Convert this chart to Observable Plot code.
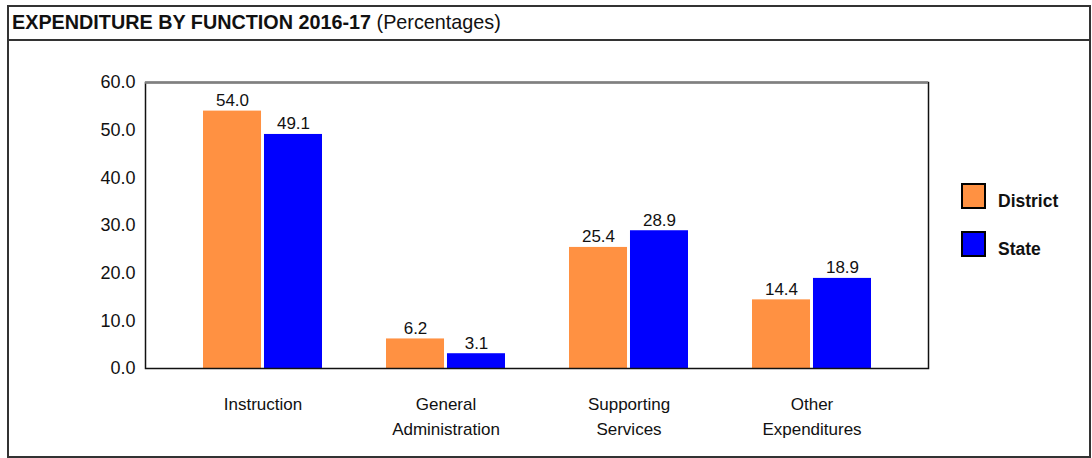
<!DOCTYPE html>
<html>
<head>
<meta charset="utf-8">
<script src="https://cdn.jsdelivr.net/npm/d3@7"></script>
<script src="https://cdn.jsdelivr.net/npm/@observablehq/plot@0.6"></script>
<style>
  html, body { margin: 0; padding: 0; background: #fff; }
  #chart { position: relative; width: 1092px; height: 458px; font-family: "Liberation Sans", Arial, sans-serif; color: #111; overflow: hidden; }
  #box { position: absolute; left: 7px; top: 5px; width: 1084px; height: 453px; border: 2px solid #333; box-sizing: border-box; }
  #divider { position: absolute; left: 7px; top: 39px; width: 1084px; height: 2px; background: #333; }
  #title { position: absolute; left: 12px; top: 9px; font-size: 19.8px; line-height: 26px; white-space: nowrap; }
  #title b { font-weight: bold; }
  #plot { position: absolute; left: 0; top: 42px; }
  .sw { position: absolute; width: 25px; height: 26px; border: 2px solid #000; box-sizing: border-box; }
  .lg { position: absolute; font-size: 17.5px; font-weight: bold; line-height: 20px; }
</style>
</head>
<body>
<div id="chart">
  <div id="box"></div>
  <div id="divider"></div>
  <div id="title"><b>EXPENDITURE BY FUNCTION 2016-17</b> (Percentages)</div>
  <div id="plot"></div>
  <div id="legend"></div>
</div>
<script>
const categories = ["Instruction", "General Administration", "Supporting Services", "Other Expenditures"];
const tickLabels = ["Instruction", "General\nAdministration", "Supporting\nServices", "Other\nExpenditures"];
const seriesNames = ["District", "State"];
const districtValues = [54.0, 6.2, 25.4, 14.4];
const stateValues = [49.1, 3.1, 28.9, 18.9];
const yTicks = [0, 10, 20, 30, 40, 50, 60];
const seriesColors = ["#FF9142", "#0000FF"];

const district = categories.map((c, i) => ({category: c, value: districtValues[i]}));
const state = categories.map((c, i) => ({category: c, value: stateValues[i]}));

const W = 1092, H = 416, mL = 145, mR = 164, mT = 40, mB = 90;
const pIn = 0.35, pOut = 0.314;
const bw = d3.scaleBand().domain(categories).range([mL, W - mR]).paddingInner(pIn).paddingOuter(pOut).bandwidth();
const inset = bw / 2 + 1.5;
const off = bw / 4 + 0.75;
const fmt = d3.format(".1f");

const chart = Plot.plot({
  width: W, height: H,
  marginLeft: mL, marginRight: mR, marginTop: mT, marginBottom: mB,
  x: {domain: categories, paddingInner: pIn, paddingOuter: pOut, align: 0.5},
  y: {domain: [0, 60]},
  style: {fontFamily: '"Liberation Sans", Arial, sans-serif', fontSize: "17px", color: "#111", background: "transparent"},
  marks: [
    Plot.barY(district, {x: "category", y: "value", fill: seriesColors[0], insetRight: inset}),
    Plot.barY(state, {x: "category", y: "value", fill: seriesColors[1], insetLeft: inset}),
    Plot.text(district, {x: "category", y: "value", text: d => fmt(d.value), dx: -off, dy: -5, lineAnchor: "bottom", fontSize: 17, fill: "#111"}),
    Plot.text(state, {x: "category", y: "value", text: d => fmt(d.value), dx: off, dy: -5, lineAnchor: "bottom", fontSize: 17, fill: "#111"}),
    Plot.frame({stroke: "#111", strokeWidth: 1.5}),
    Plot.ruleY([60], {stroke: "#808080", strokeWidth: 2.5}),
    Plot.axisY({ticks: yTicks, tickFormat: fmt, tickSize: 0, tickPadding: 10, label: null, fontSize: 18}),
    Plot.axisX({tickSize: 0, tickPadding: 24, tickFormat: d => tickLabels[categories.indexOf(d)], lineHeight: 1.47, label: null, fontSize: 17})
  ]
});
document.getElementById("plot").appendChild(chart);

const legend = document.getElementById("legend");
const legendTops = [183, 231];
seriesNames.forEach((name, i) => {
  const sw = document.createElement("div");
  sw.className = "sw";
  sw.style.left = "961px";
  sw.style.top = legendTops[i] + "px";
  sw.style.background = seriesColors[i];
  legend.appendChild(sw);
  const lg = document.createElement("div");
  lg.className = "lg";
  lg.style.left = "998px";
  lg.style.top = (legendTops[i] + 8) + "px";
  lg.textContent = name;
  legend.appendChild(lg);
});
</script>
</body>
</html>
